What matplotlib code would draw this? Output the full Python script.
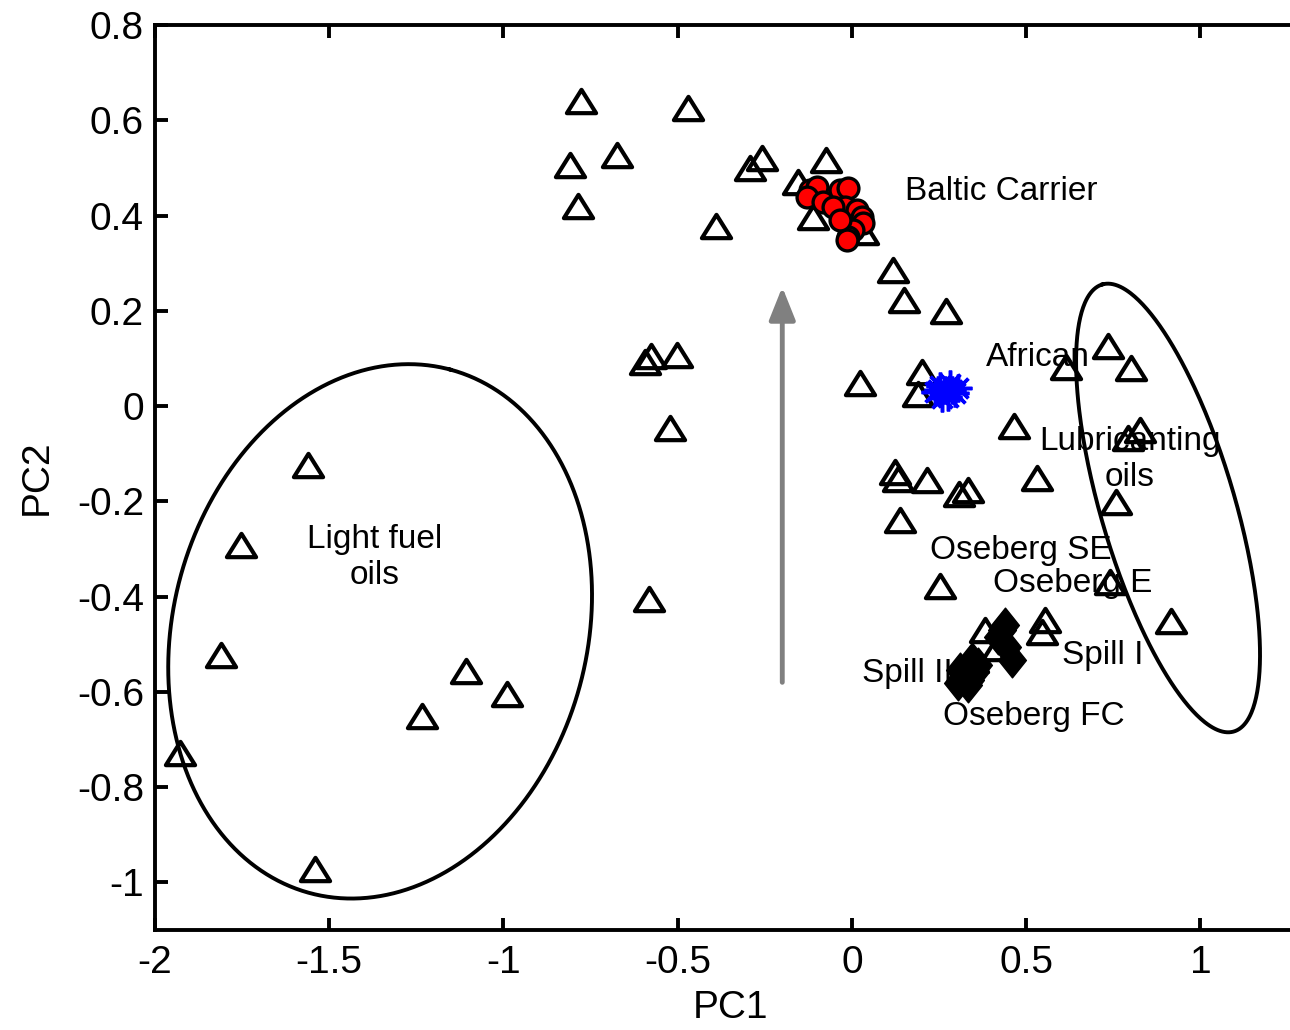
import matplotlib
matplotlib.use("Agg")
import matplotlib.pyplot as plt
import numpy as np
from matplotlib.path import Path

plt.rcParams['font.family'] = ['Liberation Sans', 'DejaVu Sans']

# score plot, PC1 vs PC2
tri_x = [-0.777, -0.470, -0.809, -0.674, -0.786, -0.390, -0.293, -0.258, -0.155, -0.075,
         -0.112, 0.032, 0.118, 0.149, 0.270, -0.594, -0.576, -0.502, -0.522, -0.582,
         0.023, 0.201, 0.189, 0.465, 0.614, 0.734, 0.800, 0.792, 0.826, 0.757,
         0.740, 0.915, 0.123, 0.132, 0.215, 0.307, 0.333, 0.138, 0.531, 0.252,
         0.381, 0.416, 0.553, 0.545, 0.347,
         -1.560, -1.752, -1.810, -1.927, -1.540, -1.233, -1.107, -0.989]
tri_y = [0.641, 0.626, 0.506, 0.527, 0.420, 0.378, 0.500, 0.521, 0.471, 0.517,
         0.397, 0.366, 0.286, 0.223, 0.200, 0.092, 0.105, 0.107, -0.046, -0.405,
         0.048, 0.071, 0.025, -0.042, 0.082, 0.126, 0.080, -0.067, -0.050, -0.202,
         -0.370, -0.452, -0.139, -0.153, -0.155, -0.185, -0.176, -0.239, -0.151, -0.378,
         -0.471, -0.508, -0.450, -0.475, -0.534,
         -0.124, -0.292, -0.523, -0.729, -0.971, -0.651, -0.557, -0.605]

baltic_x = [-0.120, -0.100, -0.129, -0.083, -0.034, -0.011, -0.020, 0.014,
            0.029, 0.032, 0.003, -0.011, -0.014, -0.054, -0.034]
baltic_y = [0.454, 0.460, 0.439, 0.429, 0.454, 0.458, 0.418, 0.412,
            0.397, 0.384, 0.370, 0.355, 0.349, 0.418, 0.391]

african_x = [0.238, 0.252, 0.267, 0.281, 0.296, 0.275, 0.258, 0.287, 0.304, 0.247]
african_y = [0.029, 0.042, 0.034, 0.046, 0.027, 0.019, 0.017, 0.034, 0.038, 0.034]

spill_x = [0.430, 0.445, 0.459, 0.419, 0.439,
           0.310, 0.324, 0.338, 0.353, 0.333, 0.304, 0.361, 0.344]
spill_y = [-0.471, -0.506, -0.534, -0.485, -0.460,
           -0.555, -0.565, -0.576, -0.559, -0.586, -0.582, -0.544, -0.534]

labels = ['Baltic Carrier', 'African', 'Lubricanting\noils', 'Light fuel\noils',
          'Oseberg SE', 'Oseberg E', 'Spill I', 'Spill II', 'Oseberg FC']
label_x = [0.152, 0.384, 0.797, -1.371, 0.224, 0.404, 0.602, 0.029, 0.261]
label_y = [0.450, 0.101, -0.113, -0.318, -0.303, -0.372, -0.523, -0.561, -0.651]
label_ha = ['left', 'left', 'center', 'center', 'left', 'left', 'left', 'left', 'left']

# group outlines: centre (data), semi-axes (px), tilt from vertical (deg)
ell_center = [(-1.354, -0.473), (0.907, -0.214)]
ell_axes = [(271, 207), (233, 67)]
ell_tilt = [15, -16.4]

fig = plt.figure(figsize=(12.9, 10.3), dpi=100)
ax = fig.add_axes([155 / 1290, 100 / 1030, 1150 / 1290, 905 / 1030])
ax.set_xlim(-2, 1.3)
ax.set_ylim(-1.1, 0.8)

tri = Path([(-1, -0.8), (1, -0.8), (0, 0.8), (-1, -0.8)], closed=True)
diam = Path([(0, 1), (0.8, 0), (0, -1), (-0.8, 0), (0, 1)], closed=True)

ax.plot(tri_x, tri_y, ls='none', marker=tri, ms=21, mfc='none', mec='k', mew=3.0, zorder=2)
ax.plot(baltic_x, baltic_y, ls='none', marker='o', ms=15, mfc='red', mec='k', mew=2.4, zorder=3)
ax.plot(african_x, african_y, ls='none', marker=(8, 2, 0), ms=20, mec='blue', mew=2.5, zorder=3)
ax.plot(spill_x, spill_y, ls='none', marker=diam, ms=25, mfc='k', mec='k', mew=1, zorder=3)

for s, x, y, ha in zip(labels, label_x, label_y, label_ha):
    ax.text(x, y, s, fontsize=24, ha=ha, va='center', zorder=4)

# ellipses are drawn in screen pixels so the tilt looks right
fig_w, fig_h = fig.get_size_inches() * fig.dpi
pos = ax.get_position()
sx = fig_w * pos.width / (ax.get_xlim()[1] - ax.get_xlim()[0])
sy = fig_h * pos.height / (ax.get_ylim()[1] - ax.get_ylim()[0])
t = np.linspace(0, 2 * np.pi, 400)
for (cx, cy), (a, b), tilt in zip(ell_center, ell_axes, ell_tilt):
    th = np.deg2rad(tilt)
    dx = a * np.cos(t) * np.sin(th) + b * np.sin(t) * np.cos(th)
    dy = a * np.cos(t) * np.cos(th) - b * np.sin(t) * np.sin(th)
    ax.plot(cx + dx / sx, cy + dy / sy, color='k', lw=2.8, zorder=5)

ax.annotate('', xy=(-0.2, 0.25), xytext=(-0.2, -0.58),
            arrowprops=dict(arrowstyle='-|>,head_length=1.0,head_width=0.4',
                            mutation_scale=20, color='gray', lw=3.5,
                            shrinkA=0, shrinkB=0))

ax.set_xticks(np.arange(-2, 1.01, 0.5))
ax.set_xticklabels(['-2', '-1.5', '-1', '-0.5', '0', '0.5', '1'])
ax.set_yticks(np.arange(-1, 0.81, 0.2))
ax.set_yticklabels(['-1', '-0.8', '-0.6', '-0.4', '-0.2', '0', '0.2', '0.4', '0.6', '0.8'])
ax.tick_params(direction='in', length=9, width=2.8, labelsize=28, pad=8,
               top=True, right=True)
ax.tick_params(axis='x', pad=11)
for sp in ax.spines.values():
    sp.set_linewidth(2.8)

ax.set_xlabel('PC1', fontsize=28, labelpad=6)
ax.set_ylabel('PC2', fontsize=28, labelpad=16)

fig.savefig('out.png', dpi=100)
